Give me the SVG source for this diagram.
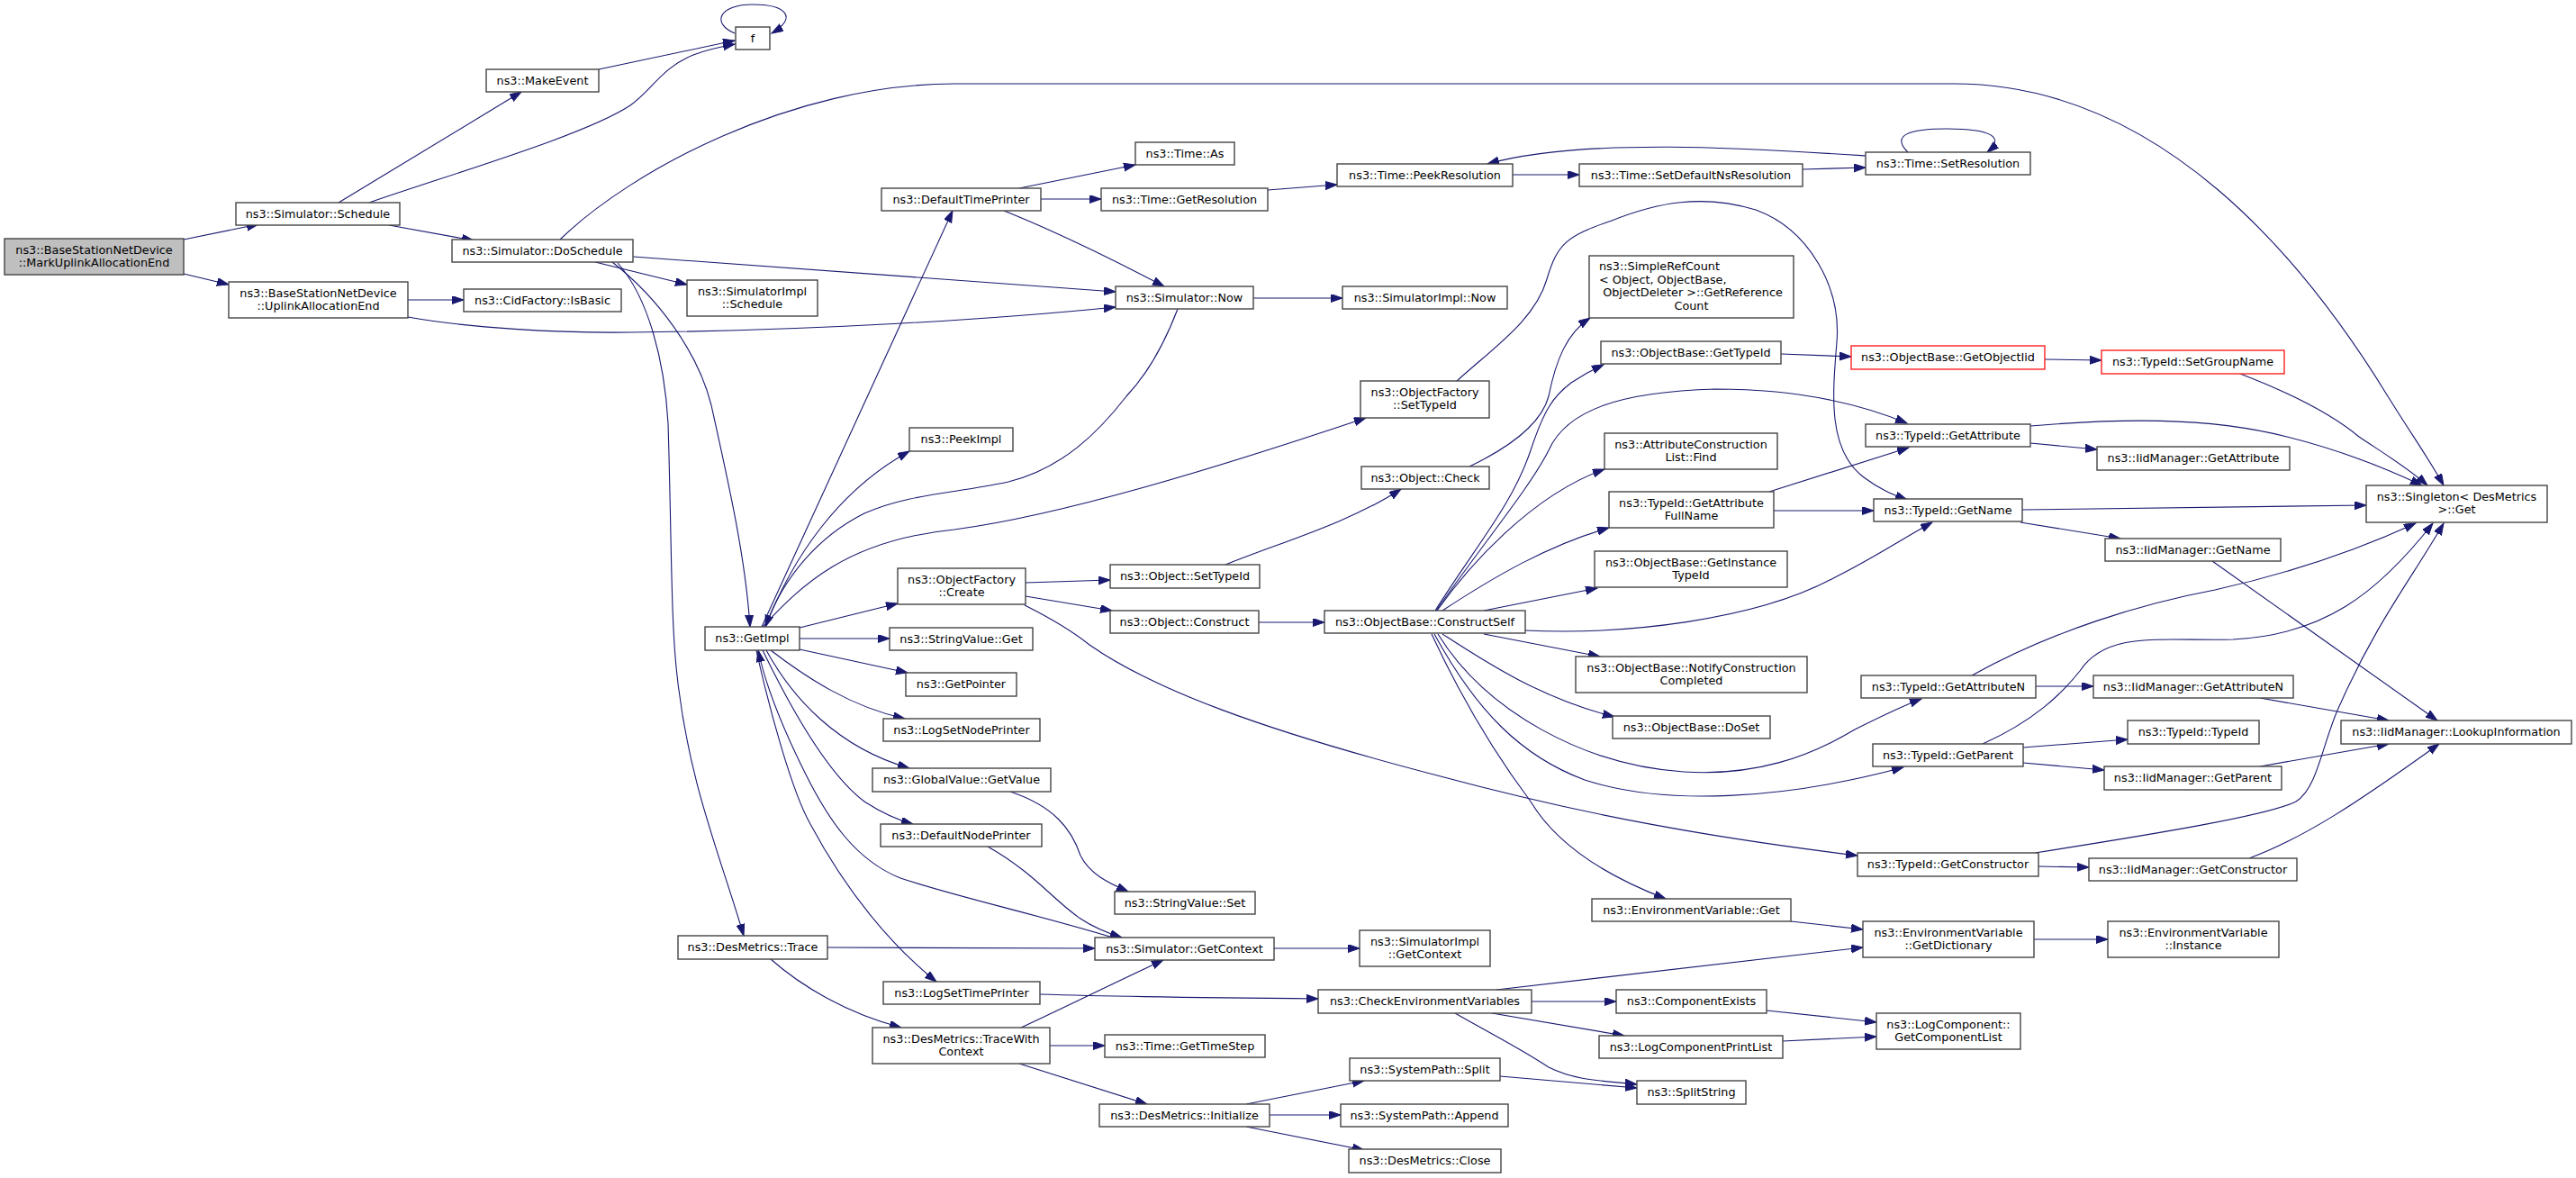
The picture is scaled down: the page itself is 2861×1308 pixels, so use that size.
<svg xmlns="http://www.w3.org/2000/svg" width="2861" height="1308" viewBox="0 0 2861 1308">
<style>
.node rect{fill:#ffffff;stroke:#444444;stroke-width:1.4}
.node.root rect{fill:#bfbfbf}
.node.red rect{stroke:#ff2020}
.node text{font-family:"DejaVu Sans","Liberation Sans",sans-serif;font-size:12.8px;fill:#000000;text-anchor:middle}
.node text.l{text-anchor:start}
#edges path{fill:none;stroke:#191970;stroke-width:1.1;marker-end:url(#arr)}
</style>
<defs>
<marker id="arr" markerUnits="userSpaceOnUse" markerWidth="15" markerHeight="11" refX="13" refY="4.5" orient="auto">
<path d="M0,0 L13,4.5 L0,9 z" fill="#191970" stroke="#191970" stroke-width="1"/>
</marker>
</defs>
<rect x="0" y="0" width="2861" height="1308" fill="#ffffff"/>
<g id="edges">
<path d="M204,266 L287,249"/>
<path d="M204,304 L254,316"/>
<path d="M376,225 L579,102"/>
<path d="M410,225 C505,192 650,150 700,117 C725,99 735,75 770,61 C785,55 800,52 816,49"/>
<path d="M665,77 L816,45"/>
<path d="M816,37 C790,26 798,5 836,5 C874,5 886,20 857,37"/>
<path d="M432,250 L526,267"/>
<path d="M453,333 L515,333"/>
<path d="M453,352 C520,364 620,370 700,369 C900,367 1100,355 1239,341"/>
<path d="M703,285 L1239,324"/>
<path d="M661,291 L763,316"/>
<path d="M680,291 C730,330 775,390 790,450 C810,540 828,620 833,696"/>
<path d="M686,292 C720,330 738,400 742,470 C746,600 745,690 752,750 C765,870 800,950 826,1039"/>
<path d="M622,266 C700,190 880,93 1060,93 L2170,93 C2400,93 2560,290 2652,440 C2680,485 2698,510 2714,539"/>
<path d="M1132,209 L1261,183"/>
<path d="M1156,221 L1223,221"/>
<path d="M1115,234 C1170,256 1230,285 1293,318"/>
<path d="M1408,211 L1485,205"/>
<path d="M1680,194 L1754,194"/>
<path d="M2002,188 L2072,186"/>
<path d="M2072,173 C1950,165 1760,152 1652,182"/>
<path d="M2119,169 C2100,150 2120,143 2163,143 C2210,143 2228,152 2207,169"/>
<path d="M1392,331 L1491,331"/>
<path d="M1308,343 C1290,390 1270,420 1251,440 C1220,480 1180,520 1120,535 C1060,548 1010,548 960,570 C910,595 870,640 850,696"/>
<path d="M1618,423 C1660,385 1705,355 1718,310 C1730,270 1740,262 1790,245 C1840,225 1890,215 1950,233 C2010,255 2045,320 2040,380 C2035,440 2030,500 2070,530 C2090,545 2105,550 2118,555"/>
<path d="M1632,518 C1680,495 1712,470 1720,440 C1728,400 1740,370 1766,353"/>
<path d="M1361,627 C1420,603 1500,580 1556,543"/>
<path d="M1139,647 L1233,644"/>
<path d="M1139,662 L1235,678"/>
<path d="M1138,672 C1170,688 1190,700 1210,716 C1280,765 1400,810 1600,862 C1760,905 1900,930 2063,950"/>
<path d="M1398,691 L1471,691"/>
<path d="M847,696 C890,650 940,600 1060,588 C1180,572 1350,520 1517,464"/>
<path d="M850,696 C880,620 930,545 1010,501"/>
<path d="M846,696 L1058,234"/>
<path d="M888,709 L988,709"/>
<path d="M888,697 L997,670"/>
<path d="M888,721 L1008,747"/>
<path d="M856,722 C895,752 945,785 1005,798"/>
<path d="M851,722 C880,775 930,830 1010,853"/>
<path d="M847,722 C880,790 920,860 960,890 C980,903 995,910 1014,915"/>
<path d="M1236,1041 C1150,1015 1060,995 1000,975 C950,955 920,910 895,860 C870,810 850,760 842,722"/>
<path d="M840,722 C855,790 880,880 900,915 C940,990 990,1050 1040,1090"/>
<path d="M1097,940 C1150,970 1170,1000 1200,1020 C1215,1030 1230,1036 1246,1041"/>
<path d="M1122,879 C1170,895 1190,920 1200,950 C1210,970 1230,980 1253,990"/>
<path d="M919,1052 L1216,1053"/>
<path d="M856,1065 C890,1095 940,1125 1001,1141"/>
<path d="M1134,1141 C1190,1115 1240,1090 1292,1066"/>
<path d="M1166,1161 L1227,1161"/>
<path d="M1132,1181 L1274,1226"/>
<path d="M1155,1104 C1250,1107 1350,1108 1464,1109"/>
<path d="M1415,1053 L1510,1053"/>
<path d="M1384,1226 L1515,1200"/>
<path d="M1410,1238 L1489,1238"/>
<path d="M1384,1251 L1515,1277"/>
<path d="M1666,1195 L1818,1208"/>
<path d="M1662,1099 L2069,1052"/>
<path d="M1701,1112 L1795,1112"/>
<path d="M1657,1125 L1804,1150"/>
<path d="M1616,1125 C1660,1150 1690,1165 1720,1185 C1750,1200 1780,1200 1818,1204"/>
<path d="M1962,1122 L2084,1135"/>
<path d="M1980,1156 L2084,1151"/>
<path d="M1989,1023 L2069,1032"/>
<path d="M2259,1043 L2341,1043"/>
<path d="M2264,962 L2320,963"/>
<path d="M2260,947 C2400,925 2520,905 2550,890 C2575,875 2580,820 2600,780 C2640,690 2680,640 2714,581"/>
<path d="M2498,953 C2560,930 2620,890 2709,826"/>
<path d="M2247,830 L2363,821"/>
<path d="M2247,847 L2337,855"/>
<path d="M2202,826 C2260,800 2290,770 2310,745 C2340,700 2400,712 2480,710 C2580,705 2640,660 2702,581"/>
<path d="M2190,750 C2280,700 2380,670 2460,655 C2550,635 2620,610 2683,581"/>
<path d="M2261,762 L2325,762"/>
<path d="M2510,775 L2653,800"/>
<path d="M2510,851 L2653,826"/>
<path d="M2457,623 L2707,800"/>
<path d="M2246,566 L2628,561"/>
<path d="M2244,580 L2355,598"/>
<path d="M2255,473 C2350,465 2450,462 2540,485 C2600,500 2650,520 2690,539"/>
<path d="M2255,492 L2329,499"/>
<path d="M2488,415 C2540,435 2590,460 2620,485 C2650,505 2675,520 2696,539"/>
<path d="M1978,393 L2056,396"/>
<path d="M2271,399 L2334,400"/>
<path d="M1594,678 C1640,605 1680,560 1700,500 C1715,455 1725,440 1745,425 C1760,415 1770,410 1781,405"/>
<path d="M1596,678 C1630,630 1700,550 1782,521"/>
<path d="M1602,678 C1660,640 1720,605 1787,586"/>
<path d="M1648,678 L1774,653"/>
<path d="M1595,678 C1650,600 1700,540 1720,500 C1740,455 1800,435 1905,432 C2000,432 2070,450 2118,470"/>
<path d="M1694,700 C1800,705 1950,690 2040,640 C2080,620 2110,600 2146,580"/>
<path d="M1648,704 L1777,729"/>
<path d="M1602,704 C1650,735 1710,775 1793,796"/>
<path d="M1597,704 C1650,790 1760,850 1870,857 C1950,862 2010,840 2060,810 C2090,795 2110,785 2134,776"/>
<path d="M1593,704 C1640,790 1690,840 1760,866 C1850,895 1980,888 2114,852"/>
<path d="M1590,704 C1630,790 1670,850 1700,890 C1730,940 1790,975 1850,998"/>
<path d="M1965,546 L2120,497"/>
<path d="M1970,567 L2081,567"/>
</g>
<g id="n_mark" class="node root"><rect x="5" y="265" width="199" height="40"/><text x="104.5" y="281.5">ns3::BaseStationNetDevice</text><text x="104.5" y="296">::MarkUplinkAllocationEnd</text></g>
<g id="n_schedule" class="node"><rect x="262" y="225" width="182" height="25"/><text x="353" y="242">ns3::Simulator::Schedule</text></g>
<g id="n_makeevent" class="node"><rect x="540" y="77" width="125" height="25"/><text x="602.5" y="94">ns3::MakeEvent</text></g>
<g id="n_f" class="node"><rect x="817" y="30" width="38" height="25"/><text x="836" y="47">f</text></g>
<g id="n_doschedule" class="node"><rect x="502" y="266" width="201" height="25"/><text x="602.5" y="283">ns3::Simulator::DoSchedule</text></g>
<g id="n_uplink" class="node"><rect x="254" y="313" width="199" height="40"/><text x="353.5" y="329.5">ns3::BaseStationNetDevice</text><text x="353.5" y="344">::UplinkAllocationEnd</text></g>
<g id="n_isbasic" class="node"><rect x="515" y="321" width="175" height="25"/><text x="602.5" y="338">ns3::CidFactory::IsBasic</text></g>
<g id="n_dtp" class="node"><rect x="979" y="209" width="177" height="25"/><text x="1067.5" y="226">ns3::DefaultTimePrinter</text></g>
<g id="n_timeas" class="node"><rect x="1261" y="158" width="110" height="25"/><text x="1316" y="175">ns3::Time::As</text></g>
<g id="n_getres" class="node"><rect x="1223" y="209" width="185" height="25"/><text x="1315.5" y="226">ns3::Time::GetResolution</text></g>
<g id="n_simimplsched" class="node"><rect x="763" y="311" width="145" height="40"/><text x="835.5" y="327.5">ns3::SimulatorImpl</text><text x="835.5" y="342">::Schedule</text></g>
<g id="n_now" class="node"><rect x="1239" y="318" width="153" height="25"/><text x="1315.5" y="335">ns3::Simulator::Now</text></g>
<g id="n_peekres" class="node"><rect x="1485" y="182" width="195" height="25"/><text x="1582.5" y="199">ns3::Time::PeekResolution</text></g>
<g id="n_setdefns" class="node"><rect x="1754" y="182" width="248" height="25"/><text x="1878" y="199">ns3::Time::SetDefaultNsResolution</text></g>
<g id="n_setres" class="node"><rect x="2072" y="169" width="183" height="25"/><text x="2163.5" y="186">ns3::Time::SetResolution</text></g>
<g id="n_simimplnow" class="node"><rect x="1491" y="318" width="183" height="25"/><text x="1582.5" y="335">ns3::SimulatorImpl::Now</text></g>
<g id="n_refcount" class="node"><rect x="1765" y="284" width="227" height="69"/><text class="l" x="1776" y="300">ns3::SimpleRefCount</text><text class="l" x="1776" y="314.5">&lt; Object, ObjectBase,</text><text x="1880" y="329">ObjectDeleter &gt;::GetReference</text><text x="1878.5" y="343.5">Count</text></g>
<g id="n_obgettypeid" class="node"><rect x="1778" y="379" width="200" height="25"/><text x="1878" y="396">ns3::ObjectBase::GetTypeId</text></g>
<g id="n_getobjectiid" class="node red"><rect x="2056" y="384" width="215" height="26"/><text x="2163.5" y="401">ns3::ObjectBase::GetObjectIid</text></g>
<g id="n_setgroupname" class="node red"><rect x="2334" y="389" width="203" height="26"/><text x="2435.5" y="406">ns3::TypeId::SetGroupName</text></g>
<g id="n_ofsettypeid" class="node"><rect x="1511" y="423" width="143" height="41"/><text x="1582.5" y="439.5">ns3::ObjectFactory</text><text x="1582.5" y="454">::SetTypeId</text></g>
<g id="n_peekimpl" class="node"><rect x="1010" y="475" width="115" height="26"/><text x="1067.5" y="492">ns3::PeekImpl</text></g>
<g id="n_ofcreate" class="node"><rect x="997" y="631" width="142" height="40"/><text x="1068" y="647.5">ns3::ObjectFactory</text><text x="1068" y="662">::Create</text></g>
<g id="n_objsettypeid" class="node"><rect x="1233" y="627" width="166" height="26"/><text x="1316" y="644">ns3::Object::SetTypeId</text></g>
<g id="n_objconstruct" class="node"><rect x="1233" y="678" width="165" height="25"/><text x="1315.5" y="695">ns3::Object::Construct</text></g>
<g id="n_getimpl" class="node"><rect x="783" y="696" width="105" height="26"/><text x="835.5" y="713">ns3::GetImpl</text></g>
<g id="n_svget" class="node"><rect x="988" y="697" width="159" height="25"/><text x="1067.5" y="714">ns3::StringValue::Get</text></g>
<g id="n_getpointer" class="node"><rect x="1006" y="747" width="123" height="26"/><text x="1067.5" y="764">ns3::GetPointer</text></g>
<g id="n_logsetnode" class="node"><rect x="981" y="798" width="174" height="25"/><text x="1068" y="815">ns3::LogSetNodePrinter</text></g>
<g id="n_gvgetvalue" class="node"><rect x="969" y="853" width="198" height="26"/><text x="1068" y="870">ns3::GlobalValue::GetValue</text></g>
<g id="n_objcheck" class="node"><rect x="1512" y="518" width="142" height="25"/><text x="1583" y="535">ns3::Object::Check</text></g>
<g id="n_acfind" class="node"><rect x="1782" y="481" width="192" height="40"/><text x="1878" y="497.5">ns3::AttributeConstruction</text><text x="1878" y="512">List::Find</text></g>
<g id="n_getattrfull" class="node"><rect x="1787" y="546" width="183" height="40"/><text x="1878.5" y="562.5">ns3::TypeId::GetAttribute</text><text x="1878.5" y="577">FullName</text></g>
<g id="n_getinsttid" class="node"><rect x="1771" y="612" width="214" height="40"/><text x="1878" y="628.5">ns3::ObjectBase::GetInstance</text><text x="1878" y="643">TypeId</text></g>
<g id="n_constructself" class="node"><rect x="1471" y="678" width="223" height="25"/><text x="1582.5" y="695">ns3::ObjectBase::ConstructSelf</text></g>
<g id="n_notify" class="node"><rect x="1750" y="729" width="257" height="40"/><text x="1878.5" y="745.5">ns3::ObjectBase::NotifyConstruction</text><text x="1878.5" y="760">Completed</text></g>
<g id="n_doset" class="node"><rect x="1791" y="795" width="175" height="25"/><text x="1878.5" y="812">ns3::ObjectBase::DoSet</text></g>
<g id="n_getattr" class="node"><rect x="2072" y="471" width="183" height="25"/><text x="2163.5" y="488">ns3::TypeId::GetAttribute</text></g>
<g id="n_getname" class="node"><rect x="2081" y="554" width="165" height="25"/><text x="2163.5" y="571">ns3::TypeId::GetName</text></g>
<g id="n_iidgetattr" class="node"><rect x="2329" y="496" width="214" height="26"/><text x="2436" y="513">ns3::IidManager::GetAttribute</text></g>
<g id="n_singleton" class="node"><rect x="2628" y="539" width="201" height="41"/><text x="2728.5" y="555.5">ns3::Singleton&lt; DesMetrics</text><text x="2728.5" y="570">&gt;::Get</text></g>
<g id="n_iidgetname" class="node"><rect x="2338" y="598" width="195" height="25"/><text x="2435.5" y="615">ns3::IidManager::GetName</text></g>
<g id="n_getattrn" class="node"><rect x="2067" y="750" width="194" height="25"/><text x="2164" y="767">ns3::TypeId::GetAttributeN</text></g>
<g id="n_iidgetattrn" class="node"><rect x="2325" y="750" width="222" height="25"/><text x="2436" y="767">ns3::IidManager::GetAttributeN</text></g>
<g id="n_typeid" class="node"><rect x="2363" y="800" width="146" height="26"/><text x="2436" y="817">ns3::TypeId::TypeId</text></g>
<g id="n_lookup" class="node"><rect x="2600" y="800" width="256" height="26"/><text x="2728" y="817">ns3::IidManager::LookupInformation</text></g>
<g id="n_getparent" class="node"><rect x="2080" y="826" width="167" height="25"/><text x="2163.5" y="843">ns3::TypeId::GetParent</text></g>
<g id="n_iidgetparent" class="node"><rect x="2337" y="851" width="197" height="26"/><text x="2435.5" y="868">ns3::IidManager::GetParent</text></g>
<g id="n_getctor" class="node"><rect x="2063" y="947" width="201" height="26"/><text x="2163.5" y="964">ns3::TypeId::GetConstructor</text></g>
<g id="n_iidgetctor" class="node"><rect x="2320" y="953" width="231" height="25"/><text x="2435.5" y="970">ns3::IidManager::GetConstructor</text></g>
<g id="n_getdict" class="node"><rect x="2069" y="1023" width="190" height="40"/><text x="2164" y="1039.5">ns3::EnvironmentVariable</text><text x="2164" y="1054">::GetDictionary</text></g>
<g id="n_instance" class="node"><rect x="2341" y="1023" width="190" height="40"/><text x="2436" y="1039.5">ns3::EnvironmentVariable</text><text x="2436" y="1054">::Instance</text></g>
<g id="n_getcomplist" class="node"><rect x="2084" y="1125" width="160" height="40"/><text x="2164" y="1141.5">ns3::LogComponent::</text><text x="2164" y="1156">GetComponentList</text></g>
<g id="n_envget" class="node"><rect x="1768" y="998" width="221" height="25"/><text x="1878.5" y="1015">ns3::EnvironmentVariable::Get</text></g>
<g id="n_simimplctx" class="node"><rect x="1510" y="1033" width="145" height="40"/><text x="1582.5" y="1049.5">ns3::SimulatorImpl</text><text x="1582.5" y="1064">::GetContext</text></g>
<g id="n_checkenv" class="node"><rect x="1464" y="1099" width="237" height="26"/><text x="1582.5" y="1116">ns3::CheckEnvironmentVariables</text></g>
<g id="n_compexists" class="node"><rect x="1795" y="1099" width="167" height="26"/><text x="1878.5" y="1116">ns3::ComponentExists</text></g>
<g id="n_logcompprint" class="node"><rect x="1776" y="1150" width="204" height="25"/><text x="1878" y="1167">ns3::LogComponentPrintList</text></g>
<g id="n_spsplit" class="node"><rect x="1499" y="1175" width="167" height="25"/><text x="1582.5" y="1192">ns3::SystemPath::Split</text></g>
<g id="n_splitstring" class="node"><rect x="1818" y="1200" width="121" height="26"/><text x="1878.5" y="1217">ns3::SplitString</text></g>
<g id="n_spappend" class="node"><rect x="1489" y="1226" width="186" height="25"/><text x="1582" y="1243">ns3::SystemPath::Append</text></g>
<g id="n_dmclose" class="node"><rect x="1498" y="1276" width="169" height="26"/><text x="1582.5" y="1293">ns3::DesMetrics::Close</text></g>
<g id="n_dnp" class="node"><rect x="978" y="915" width="179" height="25"/><text x="1067.5" y="932">ns3::DefaultNodePrinter</text></g>
<g id="n_svset" class="node"><rect x="1238" y="990" width="156" height="25"/><text x="1316" y="1007">ns3::StringValue::Set</text></g>
<g id="n_dmtrace" class="node"><rect x="753" y="1039" width="166" height="26"/><text x="836" y="1056">ns3::DesMetrics::Trace</text></g>
<g id="n_getctx" class="node"><rect x="1216" y="1041" width="199" height="25"/><text x="1315.5" y="1058">ns3::Simulator::GetContext</text></g>
<g id="n_logsettime" class="node"><rect x="981" y="1090" width="174" height="25"/><text x="1068" y="1107">ns3::LogSetTimePrinter</text></g>
<g id="n_tracewc" class="node"><rect x="969" y="1141" width="197" height="40"/><text x="1067.5" y="1157.5">ns3::DesMetrics::TraceWith</text><text x="1067.5" y="1172">Context</text></g>
<g id="n_timestep" class="node"><rect x="1227" y="1149" width="178" height="25"/><text x="1316" y="1166">ns3::Time::GetTimeStep</text></g>
<g id="n_init" class="node"><rect x="1221" y="1226" width="189" height="25"/><text x="1315.5" y="1243">ns3::DesMetrics::Initialize</text></g>
</svg>
